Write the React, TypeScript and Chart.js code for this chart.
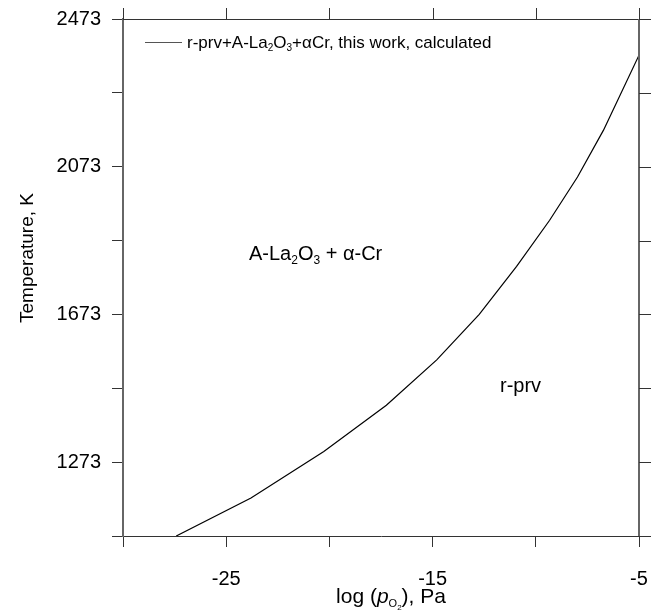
import React, { useEffect, useRef } from "react";
import { Chart, registerables } from "chart.js";

Chart.register(...registerables);

const logPO2 = [-27.42, -23.8, -20.27, -17.24, -14.8, -12.74, -10.93, -9.33, -7.98, -6.72, -5];
const temperatureK = [1073, 1176, 1302, 1427, 1550, 1673, 1803, 1928, 2045, 2172, 2375];
const xTicks = [-30, -25, -20, -15, -10, -5];
const xLabels = [-25, -15, -5];
const yTicks = [1073, 1273, 1473, 1673, 1873, 2073, 2273, 2473];
const yLabels = [1273, 1673, 2073, 2473];
const seriesLabel = "r-prv+A-La2O3+αCr, this work, calculated";

const FONT = "'Liberation Sans', Arial, Helvetica, sans-serif";

type Seg = { t: string; size: number; dy?: number; italic?: boolean };

function richWidth(ctx: CanvasRenderingContext2D, segs: Seg[]) {
  let w = 0;
  for (const s of segs) {
    ctx.font = `${s.italic ? "italic " : ""}${s.size}px ${FONT}`;
    w += ctx.measureText(s.t).width;
  }
  return w;
}

function drawRich(
  ctx: CanvasRenderingContext2D,
  segs: Seg[],
  x: number,
  y: number,
  align: "left" | "center"
) {
  let cx = align === "center" ? x - richWidth(ctx, segs) / 2 : x;
  ctx.textBaseline = "alphabetic";
  ctx.textAlign = "left";
  for (const s of segs) {
    ctx.font = `${s.italic ? "italic " : ""}${s.size}px ${FONT}`;
    ctx.fillText(s.t, cx, y + (s.dy || 0));
    cx += ctx.measureText(s.t).width;
  }
}

const decorPlugin = {
  id: "decor",
  afterDraw(chart: any) {
    const { ctx, chartArea, scales } = chart;
    const { left, right, top, bottom } = chartArea;
    ctx.save();
    // top & right frame lines
    ctx.strokeStyle = "#333";
    ctx.lineWidth = 1;
    ctx.beginPath();
    ctx.moveTo(left, Math.round(top) + 0.5);
    ctx.lineTo(right, Math.round(top) + 0.5);
    ctx.stroke();
    ctx.strokeStyle = "#666";
    ctx.lineWidth = 2;
    ctx.beginPath();
    ctx.moveTo(Math.round(right), top);
    ctx.lineTo(Math.round(right), bottom);
    ctx.stroke();
    // top ticks (outward)
    ctx.strokeStyle = "#333";
    ctx.lineWidth = 1;
    for (const v of xTicks) {
      const px = Math.round(scales.x.getPixelForValue(v)) + 0.5;
      ctx.beginPath();
      ctx.moveTo(px, top);
      ctx.lineTo(px, top - 11);
      ctx.stroke();
    }
    // right ticks (outward)
    for (const v of yTicks) {
      const py = Math.round(scales.y.getPixelForValue(v)) + 0.5;
      ctx.beginPath();
      ctx.moveTo(right, py);
      ctx.lineTo(right + 12, py);
      ctx.stroke();
    }
    ctx.fillStyle = "#000";
    // legend
    ctx.strokeStyle = "#555";
    ctx.lineWidth = 1;
    ctx.beginPath();
    ctx.moveTo(145, 42.5);
    ctx.lineTo(182, 42.5);
    ctx.stroke();
    const parts = seriesLabel.split(/(2|3)/);
    const legendSegs: Seg[] = parts
      .filter((p) => p.length > 0)
      .map((p) => (p === "2" || p === "3" ? { t: p, size: 10, dy: 3 } : { t: p, size: 17 }));
    drawRich(ctx, legendSegs, 187, 48, "left");
    // region labels
    drawRich(
      ctx,
      [
        { t: "A-La", size: 20 },
        { t: "2", size: 12, dy: 4 },
        { t: "O", size: 20 },
        { t: "3", size: 12, dy: 4 },
        { t: " + α-Cr", size: 20 },
      ],
      249,
      260,
      "left"
    );
    drawRich(ctx, [{ t: "r-prv", size: 20 }], 500, 392, "left");
    // x title
    drawRich(
      ctx,
      [
        { t: "log (", size: 21 },
        { t: "p", size: 21, italic: true },
        { t: "O", size: 11, dy: 4 },
        { t: "2", size: 8, dy: 7 },
        { t: "), Pa", size: 21 },
      ],
      391,
      603,
      "center"
    );
    // y title
    ctx.save();
    ctx.translate(28, 258);
    ctx.rotate(-Math.PI / 2);
    ctx.font = `19px ${FONT}`;
    ctx.textAlign = "center";
    ctx.textBaseline = "middle";
    ctx.fillText("Temperature, K", 0, 0);
    ctx.restore();
    ctx.restore();
  },
};

export default function App() {
  const ref = useRef<HTMLCanvasElement>(null);
  useEffect(() => {
    if (!ref.current) return;
    const chart = new Chart(ref.current, {
      type: "line",
      data: {
        datasets: [
          {
            label: seriesLabel,
            data: logPO2.map((x, i) => ({ x, y: temperatureK[i] })),
            borderColor: "#000",
            borderWidth: 1.2,
            pointRadius: 0,
            tension: 0,
            fill: false,
          },
        ],
      },
      options: {
        animation: false,
        responsive: true,
        maintainAspectRatio: false,
        layout: { padding: { top: 19, right: 16, left: 0, bottom: 0 } },
        plugins: { legend: { display: false }, tooltip: { enabled: false } },
        scales: {
          x: {
            type: "linear",
            min: -30,
            max: -5,
            afterBuildTicks: (s: any) => {
              s.ticks = xTicks.map((v) => ({ value: v }));
            },
            afterFit: (s: any) => {
              s.height = 74;
              s.paddingLeft = 0;
              s.paddingRight = 0;
            },
            ticks: {
              autoSkip: false,
              maxRotation: 0,
              padding: 20,
              color: "#000",
              font: { size: 20, family: FONT },
              callback: (v: any) => (xLabels.includes(Number(v)) ? String(v) : ""),
            },
            grid: {
              display: true,
              drawOnChartArea: false,
              drawTicks: true,
              tickLength: 11,
              tickColor: "#333",
              lineWidth: 1,
            },
            border: { display: true, color: "#333", width: 1 },
          },
          y: {
            type: "linear",
            min: 1073,
            max: 2473,
            afterBuildTicks: (s: any) => {
              s.ticks = yTicks.map((v) => ({ value: v }));
            },
            afterFit: (s: any) => {
              s.width = 123;
              s.paddingTop = 0;
              s.paddingBottom = 0;
            },
            ticks: {
              autoSkip: false,
              padding: 11,
              color: "#000",
              font: { size: 20, family: FONT },
              callback: (v: any) => (yLabels.includes(Number(v)) ? String(v) : ""),
            },
            grid: {
              display: true,
              drawOnChartArea: false,
              drawTicks: true,
              tickLength: 11,
              tickColor: "#333",
              lineWidth: 1,
            },
            border: { display: true, color: "#666", width: 2 },
          },
        },
      },
      plugins: [decorPlugin],
    });
    return () => chart.destroy();
  }, []);
  return (
    <div style={{ position: "fixed", left: 0, top: 0, width: 655, height: 610, background: "#fff" }}>
      <canvas ref={ref} />
    </div>
  );
}
